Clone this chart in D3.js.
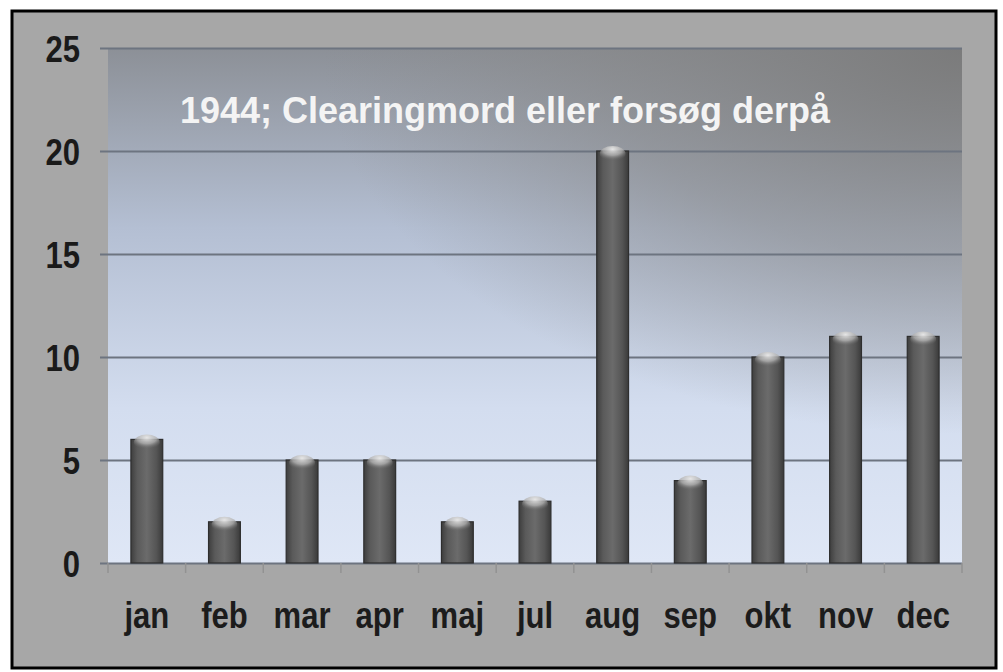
<!DOCTYPE html>
<html>
<head>
<meta charset="utf-8">
<script src="https://cdn.jsdelivr.net/npm/d3@7/dist/d3.min.js"></script>
<style>
  html, body { margin: 0; padding: 0; background: #fff; }
  svg { display: block; }
  text { font-family: "Liberation Sans", Arial, sans-serif; }
</style>
</head>
<body>
<svg id="chart" width="1003" height="672"></svg>
<script>
// 1944 – clearing murders per month
const months = ["jan", "feb", "mar", "apr", "maj", "jul", "aug", "sep", "okt", "nov", "dec"];
const counts = [6, 2, 5, 5, 2, 3, 20, 4, 10, 11, 11];
const yTicks = [0, 5, 10, 15, 20, 25];
const title = "1944; Clearingmord eller forsøg derpå";

const svg = d3.select("#chart");
const W = 1003, H = 672;
const plot = { left: 108, top: 48, right: 962, bottom: 563 };
const squeeze = 0.84; // labels in the original look condensed

const defs = svg.append("defs");

// plot background: grey at top, pale blue lower down
const bg = defs.append("linearGradient").attr("id", "bg")
  .attr("x1", 0).attr("y1", 0).attr("x2", 0).attr("y2", 1);
bg.append("stop").attr("offset", "0%").attr("stop-color", "#8c9097");
bg.append("stop").attr("offset", "35%").attr("stop-color", "#b4bfd3");
bg.append("stop").attr("offset", "70%").attr("stop-color", "#d3ddef");
bg.append("stop").attr("offset", "100%").attr("stop-color", "#dfe7f6");

const shade = defs.append("radialGradient").attr("id", "shade")
  .attr("cx", 1).attr("cy", 0).attr("r", 0.75);
shade.append("stop").attr("offset", "0%").attr("stop-color", "#7a7a7a").attr("stop-opacity", 0.95);
shade.append("stop").attr("offset", "55%").attr("stop-color", "#858585").attr("stop-opacity", 0.55);
shade.append("stop").attr("offset", "100%").attr("stop-color", "#8a8a8a").attr("stop-opacity", 0);

const barGrad = defs.append("linearGradient").attr("id", "bar")
  .attr("x1", 0).attr("y1", 0).attr("x2", 1).attr("y2", 0);
barGrad.append("stop").attr("offset", "0%").attr("stop-color", "#3e3e3e");
barGrad.append("stop").attr("offset", "20%").attr("stop-color", "#5a5a5a");
barGrad.append("stop").attr("offset", "50%").attr("stop-color", "#6b6b6b");
barGrad.append("stop").attr("offset", "80%").attr("stop-color", "#555");
barGrad.append("stop").attr("offset", "100%").attr("stop-color", "#3a3a3a");

const capGrad = defs.append("radialGradient").attr("id", "cap")
  .attr("cx", 0.5).attr("cy", 0.2).attr("r", 0.7);
capGrad.append("stop").attr("offset", "0%").attr("stop-color", "#e6e6e6");
capGrad.append("stop").attr("offset", "55%").attr("stop-color", "#b0b0b0").attr("stop-opacity", 0.8);
capGrad.append("stop").attr("offset", "100%").attr("stop-color", "#6a6a6a").attr("stop-opacity", 0);

// outer panel
svg.append("rect").attr("x", 0).attr("y", 0).attr("width", W).attr("height", H).attr("fill", "#fff");
svg.append("rect").attr("x", 12).attr("y", 11).attr("width", 984).attr("height", 657)
  .attr("fill", "#a7a7a7").attr("stroke", "#000").attr("stroke-width", 3);

const x = d3.scaleBand().domain(months).range([plot.left, plot.right]).paddingInner(0.59).paddingOuter(0.295);
const y = d3.scaleLinear().domain([0, 25]).range([plot.bottom, plot.top]);

svg.append("rect").attr("x", plot.left).attr("y", plot.top)
  .attr("width", plot.right - plot.left).attr("height", plot.bottom - plot.top).attr("fill", "url(#bg)");
svg.append("rect").attr("x", plot.left).attr("y", plot.top)
  .attr("width", plot.right - plot.left).attr("height", plot.bottom - plot.top).attr("fill", "url(#shade)");

// gridlines + y axis
const yAxis = d3.axisLeft(y).tickValues(yTicks).tickSize(-(plot.right - plot.left) - 8).tickPadding(0);
const gy = svg.append("g").attr("transform", `translate(${plot.left - 8},0)`).call(yAxis);
gy.select(".domain").remove();
gy.selectAll(".tick line").attr("stroke", "#6d7480").attr("stroke-width", 2);
gy.selectAll(".tick text")
  .attr("fill", "#1a1a1a").attr("font-size", 37).attr("font-weight", "bold")
  .attr("x", -20 / squeeze).attr("dy", "0.36em")
  .attr("transform", `scale(${squeeze},1)`);

// x axis ticks at band boundaries
const step = x.step();
const edges = d3.range(months.length + 1).map(i => plot.left + i * step);
svg.append("g").selectAll("line").data(edges).join("line")
  .attr("x1", d => d).attr("x2", d => d).attr("y1", plot.bottom).attr("y2", plot.bottom + 10)
  .attr("stroke", "#929292").attr("stroke-width", 1.5);

svg.append("g").selectAll("text").data(months).join("text")
  .attr("transform", d => `translate(${x(d) + x.bandwidth() / 2},628) scale(${squeeze},1)`)
  .attr("text-anchor", "middle").attr("font-size", 37).attr("font-weight", "bold")
  .attr("fill", "#1c1c1c").text(d => d);

// title
svg.append("text").attr("x", 505).attr("y", 123).attr("text-anchor", "middle")
  .attr("font-size", 36).attr("font-weight", "bold").attr("fill", "#f4f4f4").text(title);

// bars
const bars = svg.append("g").selectAll("g").data(months.map((m, i) => ({ m, v: counts[i] }))).join("g");
bars.append("rect")
  .attr("x", d => x(d.m)).attr("y", d => y(d.v))
  .attr("width", x.bandwidth()).attr("height", d => y(0) - y(d.v))
  .attr("fill", "url(#bar)").attr("stroke", "#2e2e2e").attr("stroke-width", 1.2);
bars.append("ellipse")
  .attr("cx", d => x(d.m) + x.bandwidth() / 2).attr("cy", d => y(d.v) + 3)
  .attr("rx", x.bandwidth() / 2 - 3).attr("ry", 8)
  .attr("fill", "url(#cap)");
</script>
</body>
</html>
